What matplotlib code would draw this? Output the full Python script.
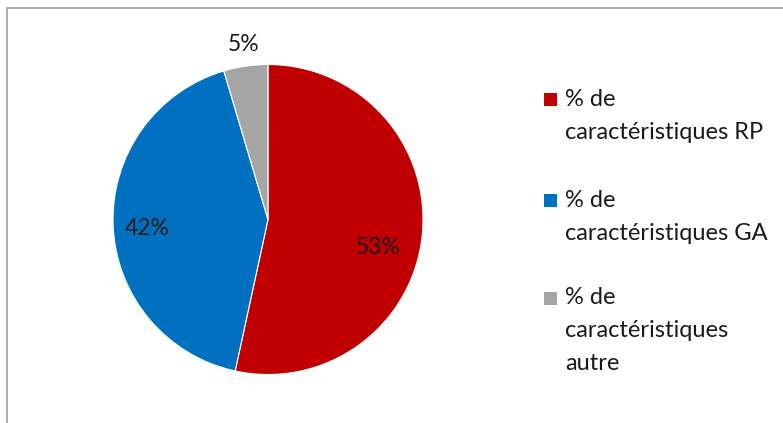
import matplotlib
matplotlib.use("Agg")
import matplotlib.pyplot as plt
from matplotlib.patches import Rectangle

# Data
labels = ["% de\ncaractéristiques RP", "% de\ncaractéristiques GA", "% de\ncaractéristiques\nautre"]
values = [53.4, 42.0, 4.6]
colors = ["#C00000", "#0070C0", "#A5A5A5"]

plt.rcParams["font.family"] = ["Lato", "DejaVu Sans"]

fig = plt.figure(figsize=(7.83, 4.23), dpi=100)

# chart frame (only left/top visible)
fig.add_artist(Rectangle((7 / 783, -0.1), 1.2, 1 - 8 / 423 + 0.1, transform=fig.transFigure,
                         fill=False, edgecolor="#A6A6A6", linewidth=1.3))

# pie
r_px = 155
cx, cy = 268, 219.5
ax = fig.add_axes([(cx - r_px) / 783, (423 - cy - r_px) / 423, 2 * r_px / 783, 2 * r_px / 423])
wedges, texts = ax.pie(values, colors=colors, startangle=90, counterclock=False,
                       wedgeprops=dict(linewidth=0.8, edgecolor="white"), radius=1)
ax.set_xlim(-1, 1)
ax.set_ylim(-1, 1)
ax.set_aspect("auto")

label_pos = [(0.71, -0.18), (-0.78, -0.06), (-0.16, 1.13)]
for v, (lx, ly) in zip(values, label_pos):
    ax.text(lx, ly, f"{round(v)}%", ha="center", va="center", fontsize=16.5, color="#1a1a1a")

# legend
ys = [100, 201, 298]
for lab, col, y in zip(labels, colors, ys):
    fig.add_artist(Rectangle((544 / 783, (423 - y - 6.5) / 423), 13 / 783, 13 / 423,
                             transform=fig.transFigure, facecolor=col, edgecolor="none"))
    fig.text(565 / 783, (423 - y + 11) / 423, lab, ha="left", va="top", fontsize=17,
             linespacing=1.7, color="#1a1a1a")

fig.savefig("out.png", dpi=100)
